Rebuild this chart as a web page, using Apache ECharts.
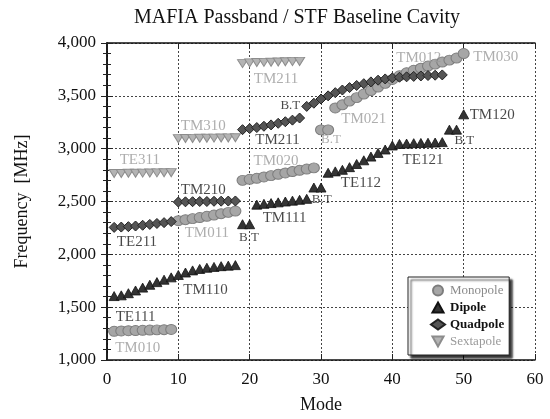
<!DOCTYPE html>
<html><head><meta charset="utf-8">
<script src="https://cdn.jsdelivr.net/npm/echarts@6/dist/echarts.min.js"></script>
<style>html,body{margin:0;padding:0;background:#fff}#c{width:550px;height:419px}</style>
</head><body><div id="c"></div><script>
// ---- data: [mode, frequency MHz] ----
const monoTM010 = [[1,1272],[2,1275],[3,1277],[4,1279],[5,1281],[6,1283],[7,1285],[8,1287],[9,1289]];
const monoTM011 = [[10,2318],[11,2328],[12,2338],[13,2348],[14,2360],[15,2372],[16,2385],[17,2397],[18,2410]];
const monoTM020 = [[19,2700],[20,2710],[21,2720],[22,2732],[23,2745],[24,2757],[25,2770],[26,2783],[27,2795],[28,2807],[29,2818]];
const monoBT = [[30,3178],[31,3178]];
const monoUpper = [[32,3385],[33,3415],[34,3450],[35,3483],[36,3517],[37,3550],[38,3583],[39,3618],[40,3655],[41,3690],[42,3718],[43,3742],[44,3762],[45,3782],[46,3800],[47,3820],[48,3838],[49,3858],[50,3900]];

const dipTE111 = [[1,1605],[2,1612],[3,1632],[4,1658],[5,1685],[6,1712],[7,1737],[8,1760],[9,1782],[10,1805],[11,1828],[12,1848],[13,1862],[14,1873],[15,1881],[16,1888],[17,1893],[18,1898]];
const dipBT1 = [[19,2285],[20,2285]];
const dipTM111 = [[21,2470],[22,2478],[23,2485],[24,2492],[25,2500],[26,2508],[27,2516],[28,2525]];
const dipBT2 = [[29,2632],[30,2632]];
const dipTE112 = [[31,2772],[32,2785],[33,2800],[34,2825],[35,2855],[36,2890],[37,2925],[38,2960],[39,2992],[40,3030],[41,3045],[42,3048],[43,3052],[44,3054],[45,3056],[46,3058],[47,3062]];
const dipBT3 = [[48,3180],[49,3180]];
const dipTM120 = [[50,3325]];

const quadTE211 = [[1,2255],[2,2258],[3,2262],[4,2268],[5,2275],[6,2283],[7,2292],[8,2300],[9,2310]];
const quadTM210 = [[10,2495],[11,2497],[12,2498],[13,2500],[14,2500],[15,2502],[16,2503],[17,2504],[18,2505]];
const quadTM211 = [[19,3180],[20,3190],[21,3200],[22,3212],[23,3225],[24,3240],[25,3255],[26,3270],[27,3290]];
const quadUpper = [[28,3400],[29,3430],[30,3470],[31,3500],[32,3530],[33,3555],[34,3578],[35,3598],[36,3615],[37,3632],[38,3648],[39,3660],[40,3670],[41,3676],[42,3680],[43,3684],[44,3688],[45,3692],[46,3695],[47,3698]];

const sextTE311 = [[1,2765],[2,2765],[3,2767],[4,2768],[5,2769],[6,2770],[7,2771],[8,2772],[9,2773]];
const sextTM310 = [[10,3095],[11,3096],[12,3097],[13,3098],[14,3099],[15,3100],[16,3101],[17,3102],[18,3103]];
const sextTM211 = [[19,3805],[20,3812],[21,3815],[22,3817],[23,3818],[24,3820],[25,3822],[26,3824],[27,3826]];

// band annotations: [mode, MHz, text, kind]  kind: 'g' = gray, 'd' = dark
const bandLabels = [
  [4.0,1411,'TE111','d'],[4.3,1112,'TM010','g'],[13.8,1664,'TM110','d'],
  [4.2,2112,'TE211','d'],[14.0,2206,'TM011','g'],[13.5,2607,'TM210','d'],
  [19.9,2159,'B.T','d'],[24.9,2346,'TM111','d'],[23.7,2879,'TM020','g'],
  [4.6,2888,'TE311','g'],[13.5,3215,'TM310','g'],[23.7,3654,'TM211','g'],
  [23.9,3084,'TM211','d'],[25.7,3411,'B.T','d'],[31.4,3084,'B.T','g'],
  [36.0,3280,'TM021','g'],[43.7,3860,'TM012','g'],[54.5,3869,'TM030','g'],
  [30.1,2514,'B.T','d'],[35.6,2673,'TE112','d'],[44.3,2888,'TE121','d'],
  [50.1,3075,'B.T','d'],[54.0,3318,'TM120','d']
];

const xTicks = {min:0, max:60, interval:10};
const yTicks = {min:1000, max:4000, interval:500};

const SERIF = '"Liberation Serif","DejaVu Serif",serif';
const triUp = 'path://M5,0 L10,9 L0,9 Z';
const triDown = 'path://M0,0 L10,0 L5,9 Z';

const chart = echarts.init(document.getElementById('c'), null, {renderer:'canvas'});
const fmt = v => Number(v).toLocaleString('en-US');

const axisCommon = {
  axisLine:{show:true, lineStyle:{color:'#111', width:1.5}},
  axisTick:{show:true, inside:true, length:6, lineStyle:{color:'#222'}},
};

const option = {
  backgroundColor:'#fff',
  animation:false,
  title:{text:'MAFIA Passband / STF Baseline Cavity', left:129, top:3,
    textStyle:{fontFamily:SERIF, fontSize:20, fontWeight:'normal', color:'#111'}},
  grid:{left:107, right:15, top:43, bottom:55},
  xAxis:[
    Object.assign({type:'value', min:xTicks.min, max:xTicks.max, interval:xTicks.interval,
      name:'Mode', nameLocation:'middle', nameGap:36,
      nameTextStyle:{fontFamily:SERIF, fontSize:18, color:'#111'},
      axisLabel:{fontFamily:SERIF, fontSize:17, color:'#111', margin:11},
      splitLine:{show:true, lineStyle:{type:[2,2], color:'#444', width:1}}}, axisCommon),
    Object.assign({type:'value', position:'top', min:xTicks.min, max:xTicks.max, interval:xTicks.interval,
      axisLabel:{show:false}, splitLine:{show:false}}, axisCommon)
  ],
  yAxis:[
    Object.assign({type:'value', min:yTicks.min, max:yTicks.max, interval:yTicks.interval,
      name:'Frequency  [MHz]', nameLocation:'middle', nameGap:76,
      nameTextStyle:{fontFamily:SERIF, fontSize:18, color:'#111'},
      axisLabel:{fontFamily:SERIF, fontSize:17, color:'#111', margin:11, formatter:fmt},
      minorTick:{show:true, splitNumber:5, length:4, lineStyle:{color:'#222'}},
      splitLine:{show:true, lineStyle:{type:[2,2], color:'#444', width:1}}}, axisCommon),
    Object.assign({type:'value', position:'right', min:yTicks.min, max:yTicks.max, interval:yTicks.interval,
      axisLabel:{show:false}, splitLine:{show:false},
      minorTick:{show:true, splitNumber:5, length:4, lineStyle:{color:'#222'}}}, axisCommon)
  ],
  legend:{
    orient:'vertical', left:408, top:277,
    padding:[7,5,7,22], itemGap:4, itemWidth:14, itemHeight:10,
    backgroundColor:'#fff', borderColor:'#222', borderWidth:1,
    shadowColor:'rgba(0,0,0,0.8)', shadowBlur:2, shadowOffsetX:3, shadowOffsetY:3,
    textStyle:{fontFamily:SERIF, fontSize:13, color:'#111'},
    data:[
      {name:'Monopole', textStyle:{color:'#8a8a8a'}},
      {name:'Dipole', textStyle:{fontWeight:'bold', color:'#111'}},
      {name:'Quadpole', textStyle:{fontWeight:'bold', color:'#111'}},
      {name:'Sextapole', textStyle:{color:'#9a9a9a'}}
    ]
  },
  series:[
    {name:'Monopole', type:'scatter', symbol:'circle', symbolSize:[11,10],
      itemStyle:{color:'#a6a6a6', borderColor:'#7d7d7d', borderWidth:1, opacity:1},
      data:[].concat(monoTM010, monoTM011, monoTM020, monoBT, monoUpper), z:2},
    {name:'Sextapole', type:'scatter', symbol:triDown, symbolSize:[10,8],
      itemStyle:{color:'#b4b4b4', borderColor:'#8c8c8c', borderWidth:1, opacity:1},
      data:[].concat(sextTE311, sextTM310, sextTM211), z:2},
    {name:'Quadpole', type:'scatter', symbol:'diamond', symbolSize:[10,10],
      itemStyle:{color:'#555', borderColor:'#222', borderWidth:1, opacity:1},
      data:[].concat(quadTE211, quadTM210, quadTM211, quadUpper), z:3},
    {name:'Dipole', type:'scatter', symbol:triUp, symbolSize:[10,9],
      itemStyle:{color:'#333', borderColor:'#111', borderWidth:0.8, opacity:1},
      data:[].concat(dipTE111, dipBT1, dipTM111, dipBT2, dipTE112, dipBT3, dipTM120), z:4},
    {name:'labels', type:'scatter', symbolSize:0, silent:true, z:5,
      data:bandLabels.map(r => ({value:[r[0], r[1]], name:r[2],
        label:{show:true, position:'inside', formatter:r[2],
          fontFamily:SERIF, fontSize:r[2]==='B.T'?13:15,
          color: r[3]==='g' ? '#9a9a9a' : '#1a1a1a'}}))}
  ]
};
chart.setOption(option);
</script></body></html>
